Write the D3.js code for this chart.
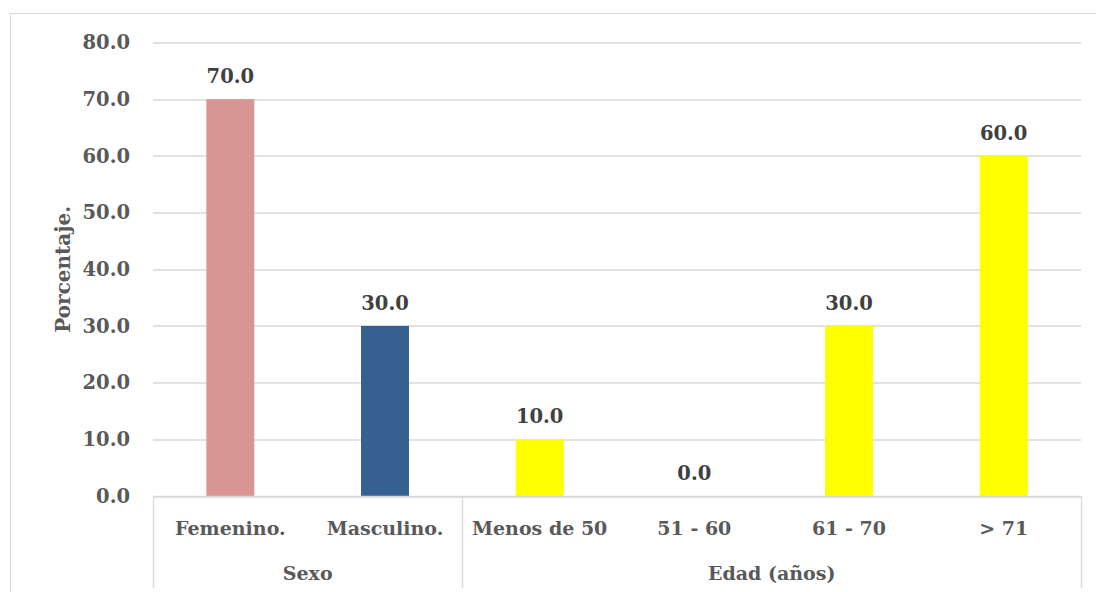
<!DOCTYPE html>
<html>
<head>
<meta charset="utf-8">
<script src="https://cdn.jsdelivr.net/npm/d3@7"></script>
<style>
  body { margin: 0; background: #fff; }
  text { font-family: "DejaVu Serif", serif; font-weight: bold; }
</style>
</head>
<body>
<script>
// Data
var categories = ["Femenino.", "Masculino.", "Menos de 50", "51 - 60", "61 - 70", "> 71"];
var values = [70.0, 30.0, 10.0, 0.0, 30.0, 60.0];
var barColors = ["#d99594", "#366092", "#ffff00", "#ffff00", "#ffff00", "#ffff00"];
var groups = ["Sexo", "Edad (años)"];
var groupSizes = [2, 4];
var yTicks = [0, 10, 20, 30, 40, 50, 60, 70, 80];

var W = 1096, H = 592;
var margin = {top: 42.5, right: 15, bottom: 96, left: 153},
    width = W - margin.left - margin.right,
    height = H - margin.top - margin.bottom;

var svg = d3.select("body").append("svg")
    .attr("width", W)
    .attr("height", H);

// outer chart border
svg.append("rect")
    .attr("x", 10.5).attr("y", 13.5)
    .attr("width", W).attr("height", H)
    .attr("fill", "none")
    .attr("stroke", "#d9d9d9");

var g = svg.append("g")
    .attr("transform", "translate(" + margin.left + "," + margin.top + ")");

var xScale = d3.scaleBand().domain(categories).range([0, width])
    .paddingInner(0.69).paddingOuter(0.345);
var yScale = d3.scaleLinear().domain([0, 80]).range([height, 0]);

// gridlines
g.selectAll(".grid")
    .data(yTicks)
    .enter().append("line")
    .attr("x1", 0).attr("x2", width)
    .attr("y1", function (d) { return Math.round(yScale(d)) + 0.5; })
    .attr("y2", function (d) { return Math.round(yScale(d)) + 0.5; })
    .attr("stroke", "#d9d9d9")
    .attr("stroke-width", 1.3);

// y axis labels
var yAxis = g.append("g")
    .call(d3.axisLeft(yScale).tickValues(yTicks).tickFormat(d3.format(".1f")).tickSize(0).tickPadding(23));
yAxis.select(".domain").remove();
yAxis.selectAll("text")
    .attr("fill", "#595959")
    .style("font-size", "19.5px")
    .style("font-family", "DejaVu Serif")
    .style("font-weight", "bold");

// bars
g.selectAll(".bar")
    .data(values)
    .enter().append("rect")
    .attr("class", "bar")
    .attr("x", function (d, i) { return xScale(categories[i]); })
    .attr("y", function (d) { return yScale(d); })
    .attr("width", xScale.bandwidth())
    .attr("height", function (d) { return height - yScale(d); })
    .attr("fill", function (d, i) { return barColors[i]; });

// data labels
g.selectAll(".label")
    .data(values)
    .enter().append("text")
    .attr("x", function (d, i) { return xScale(categories[i]) + xScale.bandwidth() / 2; })
    .attr("y", function (d) { return yScale(d) - 16; })
    .attr("text-anchor", "middle")
    .attr("fill", "#404040")
    .style("font-size", "19.5px")
    .text(function (d) { return d3.format(".1f")(d); });

// category labels
g.selectAll(".cat")
    .data(categories)
    .enter().append("text")
    .attr("x", function (d) { return xScale(d) + xScale.bandwidth() / 2; })
    .attr("y", height + 39)
    .attr("text-anchor", "middle")
    .attr("fill", "#595959")
    .style("font-size", "19px")
    .text(function (d) { return d; });

// multi-level axis box
var step = xScale.step();
var bottomY = height + 92;
g.append("line")
    .attr("x1", 0).attr("x2", width)
    .attr("y1", height + 0.5).attr("y2", height + 0.5)
    .attr("stroke", "#d9d9d9").attr("stroke-width", 1.3);

var bounds = [0];
groupSizes.forEach(function (n, i) { bounds.push(bounds[i] + n); });

g.selectAll(".divider")
    .data(bounds)
    .enter().append("line")
    .attr("x1", function (d) { return Math.round(d * step) + 0.5; })
    .attr("x2", function (d) { return Math.round(d * step) + 0.5; })
    .attr("y1", height)
    .attr("y2", bottomY)
    .attr("stroke", "#d9d9d9").attr("stroke-width", 1.3);

g.selectAll(".group")
    .data(groups)
    .enter().append("text")
    .attr("x", function (d, i) { return (bounds[i] + bounds[i + 1]) / 2 * step; })
    .attr("y", height + 84)
    .attr("text-anchor", "middle")
    .attr("fill", "#595959")
    .style("font-size", "19px")
    .text(function (d) { return d; });

// y axis title
svg.append("text")
    .attr("transform", "translate(70," + (margin.top + height / 2) + ") rotate(-90)")
    .attr("text-anchor", "middle")
    .attr("fill", "#595959")
    .style("font-size", "20px")
    .text("Porcentaje.");
</script>
</body>
</html>
